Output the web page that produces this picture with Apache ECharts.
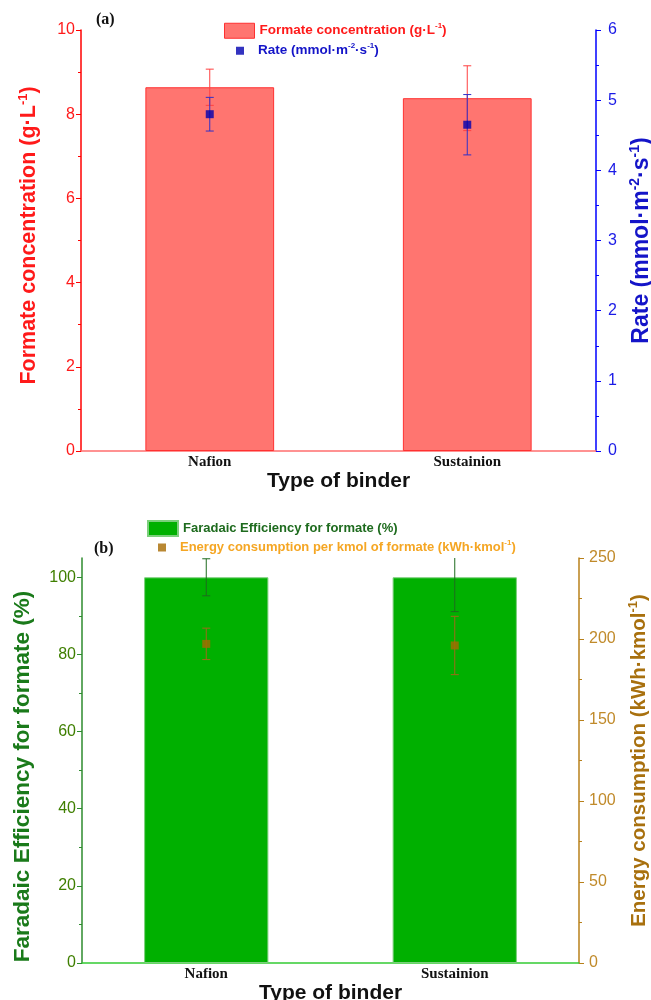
<!DOCTYPE html>
<html>
<head>
<meta charset="utf-8">
<script src="https://cdn.jsdelivr.net/npm/echarts@6/dist/echarts.min.js"></script>
<style>
  html, body { margin: 0; padding: 0; background: #fff; }
  #chart { width: 651px; height: 1000px; }
</style>
</head>
<body>
<div id="chart"></div>
<script>
// data
const binders = ["Nafion", "Sustainion"];
const concentration = [8.64, 8.38];      // g/L
const concentrationErr = [0.43, 0.77];
const rate = [4.80, 4.65];               // mmol m-2 s-1
const rateErr = [0.24, 0.43];
const faradaic = [100, 100];             // %
const faradaicErr = [4.8, 8.9];
const energy = [197, 196];               // kWh/kmol
const energyErr = [9.7, 18];
const faradaicTicks = [0, 20, 40, 60, 80, 100];

const sans = "Liberation Sans, Arial, sans-serif";
const serif = "Liberation Serif, Times New Roman, serif";

function errData(vals, errs) {
	return vals.map(function (v, i) {
		return [i, v - errs[i], v + errs[i]];
	});
}

function errSeries(xi, yi, data, color) {
	return {
		type: "custom",
		xAxisIndex: xi,
		yAxisIndex: yi,
		clip: true,
		silent: true,
		z: 3,
		data: data,
		renderItem: function (params, api) {
			let lo = api.coord([api.value(0), api.value(1)]);
			let hi = api.coord([api.value(0), api.value(2)]);
			let w = 4;
			let style = { stroke: color, lineWidth: 1 };
			return {
				type: "group",
				children: [
					{ type: "line", shape: { x1: hi[0], y1: hi[1], x2: lo[0], y2: lo[1] }, style: style },
					{ type: "line", shape: { x1: hi[0] - w, y1: hi[1], x2: hi[0] + w, y2: hi[1] }, style: style },
					{ type: "line", shape: { x1: lo[0] - w, y1: lo[1], x2: lo[0] + w, y2: lo[1] }, style: style },
				],
			};
		},
	};
}

// rich text styles: t = normal, s = superscript, g = spacer before text
function supRich(color, size) {
	return {
		t: { color: color, fontFamily: sans, fontWeight: "bold", fontSize: size, lineHeight: size + 4 },
		s: { color: color, fontFamily: sans, fontWeight: "bold", fontSize: Math.round(size * 0.62), verticalAlign: "top", lineHeight: size + 4 },
		g: { width: 9 },
	};
}

const concName = "Formate concentration";
const rateName = "Rate";
const feName = "Faradaic Efficiency for formate (%)";
const energyName = "Energy consumption per kmol of formate";

function yAxis(opt) {
	return Object.assign({
		type: "value",
		nameLocation: "middle",
		splitLine: { show: false },
		axisLine: { show: true, lineStyle: { color: opt.color, width: 1.5 } },
		axisTick: { show: true, inside: false, length: 5, lineStyle: { color: opt.color } },
		minorTick: { show: true, splitNumber: 2, length: 3, lineStyle: { color: opt.color } },
		axisLabel: { color: opt.labelColor, fontFamily: sans, fontSize: 16, margin: opt.margin },
	}, opt.extra);
}

function xAxis(gridIndex, color, gap) {
	return {
		type: "category",
		gridIndex: gridIndex,
		data: binders,
		name: "Type of binder",
		nameLocation: "middle",
		nameGap: gap,
		nameTextStyle: { color: "#111", fontFamily: sans, fontWeight: "bold", fontSize: 21 },
		axisLine: { show: true, lineStyle: { color: color, width: 1.5 } },
		axisTick: { show: false },
		axisLabel: { color: "#111", fontFamily: serif, fontWeight: "bold", fontSize: 15, margin: 4 },
		splitLine: { show: false },
	};
}

let chart = echarts.init(document.getElementById("chart"), null, { renderer: "canvas" });
chart.setOption({
	backgroundColor: "#fff",
	animation: false,
	title: [
		{ text: "(a)", left: 91, top: 7, textStyle: { fontFamily: serif, fontWeight: "bold", fontSize: 16, color: "#111" } },
		{ text: "(b)", left: 89, top: 536, textStyle: { fontFamily: serif, fontWeight: "bold", fontSize: 16, color: "#111" } },
	],
	grid: [
		{ left: 81, right: 55, top: 30, bottom: 549, outerBoundsMode: "none" },
		{ left: 82, right: 72, top: 558, bottom: 37, outerBoundsMode: "none" },
	],
	legend: [
		{
			left: 224, top: 22, padding: 0, itemWidth: 30, itemHeight: 15,
			data: [{ name: concName, icon: "rect", itemStyle: { color: "#FF7570", borderColor: "#FF3030", borderWidth: 1 } }],
			formatter: function () { return "{t|Formate concentration (g·L}{s|-1}{t|)}"; },
			textStyle: { rich: supRich("#FF1A1A", 13.5) },
		},
		{
			left: 236, top: 42, padding: 0, itemWidth: 8, itemHeight: 8,
			data: [{ name: rateName, icon: "rect" }],
			formatter: function () { return "{g|}{t|Rate (mmol·m}{s|-2}{t|·s}{s|-1}{t|)}"; },
			textStyle: { rich: supRich("#1414C8", 13.5) },
		},
		{
			left: 147, top: 520, padding: 0, itemWidth: 30, itemHeight: 15,
			data: [{ name: feName, icon: "rect", itemStyle: { color: "#00B000" } }],
			formatter: function () { return "{t|Faradaic Efficiency for formate (%)}"; },
			textStyle: { rich: supRich("#1E6B1E", 13) },
		},
		{
			left: 158, top: 539, padding: 0, itemWidth: 8, itemHeight: 8,
			data: [{ name: energyName, icon: "rect" }],
			formatter: function () { return "{g|}{t|Energy consumption per kmol of formate (kWh·kmol}{s|-1}{t|)}"; },
			textStyle: { rich: supRich("#F5A623", 13) },
		},
	],
	xAxis: [xAxis(0, "#FF6F6F", 19), xAxis(1, "#33CC33", 19)],
	yAxis: [
		yAxis({
			color: "#FF0000", labelColor: "#FF1A1A", margin: 6,
			extra: {
				gridIndex: 0, position: "left", min: 0, max: 10, interval: 2,
				name: "{t|Formate concentration (g·L}{s|-1}{t|)}",
				nameGap: 39,
				nameTextStyle: { rich: supRich("#FF1A1A", 21.5), padding: [0, 0, 0, 10] },
			},
		}),
		yAxis({
			color: "#0000FF", labelColor: "#1A1AE6", margin: 12,
			extra: {
				gridIndex: 0, position: "right", min: 0, max: 6, interval: 1,
				name: "{t|Rate (mmol·m}{s|-2}{t|·s}{s|-1}{t|)}",
				nameGap: 27,
				nameTextStyle: { rich: supRich("#1414C8", 23) },
			},
		}),
		yAxis({
			color: "#2E8B2E", labelColor: "#3F7F00", margin: 6,
			extra: {
				gridIndex: 1, position: "left", min: 0, max: 105, interval: 20,
				name: "{t|Faradaic Efficiency for formate (%)}",
				nameGap: 46,
				nameTextStyle: { rich: supRich("#1A7A1A", 22.5), padding: [0, 32, 0, 0] },
				axisTick: { show: true, inside: false, length: 5, customValues: faradaicTicks, lineStyle: { color: "#2E8B2E" } },
				axisLabel: { color: "#3F7F00", fontFamily: sans, fontSize: 16, margin: 6, customValues: faradaicTicks },
			},
		}),
		yAxis({
			color: "#B8801A", labelColor: "#C08A2A", margin: 10,
			extra: {
				gridIndex: 1, position: "right", min: 0, max: 250, interval: 50,
				name: "{t|Energy consumption (kWh·kmol}{s|-1}{t|)}",
				nameGap: 40,
				nameTextStyle: { rich: supRich("#A8700E", 20.5) },
			},
		}),
	],
	series: [
		{
			name: concName,
			type: "bar",
			xAxisIndex: 0,
			yAxisIndex: 0,
			barWidth: "50%",
			data: concentration,
			itemStyle: { color: "#FF7570", borderColor: "#FF3030", borderWidth: 1 },
		},
		errSeries(0, 0, errData(concentration, concentrationErr), "#FF4040"),
		errSeries(0, 1, errData(rate, rateErr), "#3030C8"),
		{
			name: rateName,
			type: "scatter",
			xAxisIndex: 0,
			yAxisIndex: 1,
			symbol: "rect",
			symbolSize: 8,
			z: 4,
			data: rate,
			itemStyle: { color: "#0000B0" },
		},
		{
			name: feName,
			type: "bar",
			xAxisIndex: 1,
			yAxisIndex: 2,
			barWidth: "50%",
			data: faradaic,
			itemStyle: { color: "#00B000", borderColor: "#7CCF7C", borderWidth: 1 },
		},
		errSeries(1, 2, errData(faradaic, faradaicErr), "#1E6B1E"),
		errSeries(1, 3, errData(energy, energyErr), "#9C6A1A"),
		{
			name: energyName,
			type: "scatter",
			xAxisIndex: 1,
			yAxisIndex: 3,
			symbol: "rect",
			symbolSize: 8,
			z: 4,
			data: energy,
			itemStyle: { color: "#A86A00" },
		},
	],
});
</script>
</body>
</html>
